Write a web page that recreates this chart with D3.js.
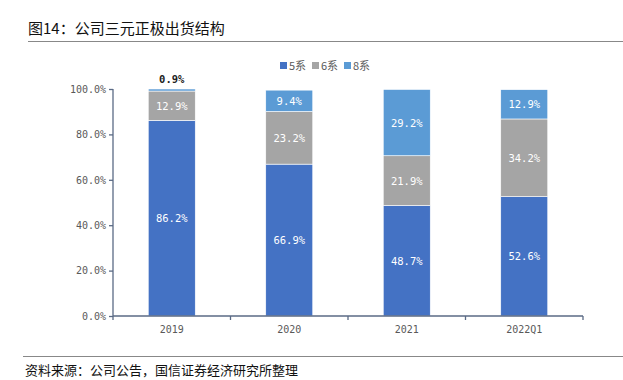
<!DOCTYPE html>
<html><head><meta charset="utf-8">
<script src="https://cdn.jsdelivr.net/npm/d3@7"></script>
<style>body{margin:0;background:#fff}svg{display:block}</style>
</head><body>
<script>
const categories = ["2019","2020","2021","2022Q1"];
const seriesNames = ["5系","6系","8系"];
const s5 = [86.2, 66.9, 48.7, 52.6];
const s6 = [12.9, 23.2, 21.9, 34.2];
const s8 = [0.9, 9.4, 29.2, 12.9];
const yTicks = [0,20,40,60,80,100];
const colors = ["#4472C4","#A5A5A5","#5B9BD5"];

const W=623,H=380;
const svg=d3.select("body").append("svg").attr("width",W).attr("height",H);
const fontCN='"Noto Sans CJK SC","Microsoft YaHei",sans-serif';
const fontNum='"DejaVu Sans Mono","Liberation Mono",monospace';

svg.append("text").attr("x",28).attr("y",34).attr("font-family",fontCN).attr("font-size",15).attr("fill","#111").text("图14：公司三元正极出货结构");
svg.append("line").attr("x1",28).attr("x2",623).attr("y1",41.5).attr("y2",41.5).attr("stroke","#888").attr("stroke-width",1);
svg.append("line").attr("x1",23).attr("x2",623).attr("y1",356.5).attr("y2",356.5).attr("stroke","#888").attr("stroke-width",1);
svg.append("text").attr("x",25).attr("y",375).attr("font-family",fontCN).attr("font-size",13).attr("fill","#111").text("资料来源：公司公告，国信证券经济研究所整理");

const x=d3.scaleBand().domain(categories).range([113,583]).paddingInner(0.6).paddingOuter(0.3);
const y=d3.scaleLinear().domain([0,100]).range([316,89]);

const data=categories.map((c,i)=>({cat:c,"5系":s5[i],"6系":s6[i],"8系":s8[i]}));
const stack=d3.stack().keys(seriesNames)(data);

const g=svg.append("g");
stack.forEach((layer,li)=>{
  layer.forEach((d,i)=>{
    g.append("rect").attr("x",x(categories[i])).attr("width",x.bandwidth())
      .attr("y",y(d[1])).attr("height",y(d[0])-y(d[1]))
      .attr("fill",colors[li]).attr("stroke","#fff").attr("stroke-width",0.6);
  });
});
stack.forEach((layer,li)=>{
  layer.forEach((d,i)=>{
    const v=d[1]-d[0];
    const small=v<3;
    g.append("text").attr("x",x(categories[i])+x.bandwidth()/2)
      .attr("y",small? y(d[1])-6 : (y(d[0])+y(d[1]))/2+4)
      .attr("text-anchor","middle").attr("font-family",fontNum).attr("font-size",10.5)
      .attr("fill",small?"#222":"#fff").attr("font-weight",small?"bold":"normal")
      .text(v.toFixed(1)+"%");
  });
});

const ya=svg.append("g").attr("transform","translate(113,0)")
  .call(d3.axisLeft(y).tickValues(yTicks).tickSize(4).tickFormat(d=>d.toFixed(1)+"%"));
const xa=svg.append("g").attr("transform","translate(0,316)")
  .call(d3.axisBottom(x).tickSize(0).tickPadding(10));
[ya,xa].forEach(a=>{
  a.selectAll("path,line").attr("stroke","#5a6a85").attr("stroke-width",1.3);
  a.selectAll("text").attr("font-family",fontNum).attr("font-size",10).attr("fill","#595959");
});
ya.select(".domain").attr("d","M0,316V89");
// x axis category boundary ticks
const bounds=[113].concat(categories.map(c=>x(c)+x.bandwidth()/2+x.step()/2));
xa.selectAll(".bt").data(bounds).enter().append("line").attr("x1",d=>d).attr("x2",d=>d)
  .attr("y1",0).attr("y2",4).attr("stroke","#5a6a85").attr("stroke-width",1.3);
xa.select(".domain").attr("d","M113,0H583");

const lg=svg.append("g").attr("font-family",fontCN).attr("font-size",11).attr("fill","#595959");
const lx=[280,312,344];
seriesNames.forEach((n,i)=>{
  lg.append("rect").attr("x",lx[i]).attr("y",62).attr("width",7).attr("height",7).attr("fill",colors[i]);
  lg.append("text").attr("x",lx[i]+9).attr("y",69.5).attr("fill","#595959").text(n);
});
</script>
</body></html>
